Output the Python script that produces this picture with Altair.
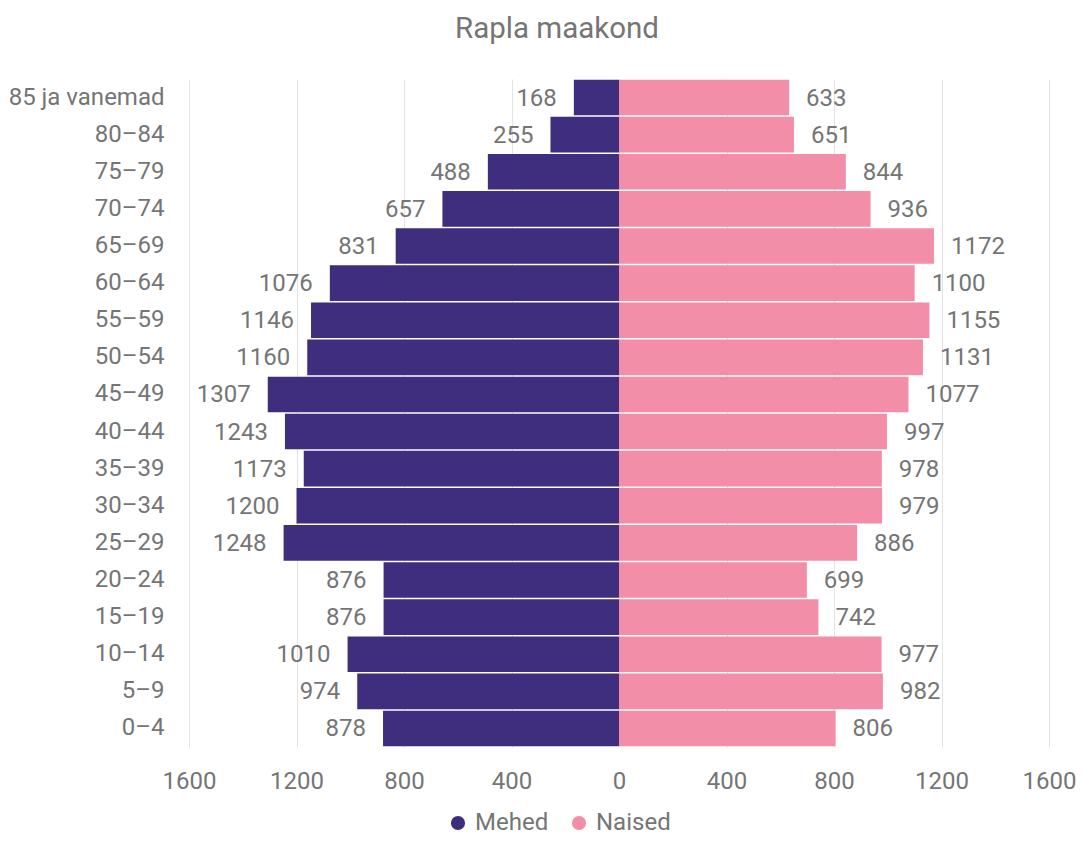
import altair as alt
import pandas as pd

ages = ["0–4", "5–9", "10–14", "15–19", "20–24", "25–29", "30–34", "35–39",
        "40–44", "45–49", "50–54", "55–59", "60–64", "65–69", "70–74",
        "75–79", "80–84", "85 ja vanemad"]
mehed = [878, 974, 1010, 876, 876, 1248, 1200, 1173, 1243, 1307, 1160,
         1146, 1076, 831, 657, 488, 255, 168]
naised = [806, 982, 977, 742, 699, 886, 979, 978, 997, 1077, 1131, 1155,
          1100, 1172, 936, 844, 651, 633]
x_ticks = [-1600, -1200, -800, -400, 0, 400, 800, 1200, 1600]

rows = []
for a, m, n in zip(ages, mehed, naised):
    rows.append({"age": a, "sugu": "Mehed", "value": m, "signed": -m})
    rows.append({"age": a, "sugu": "Naised", "value": n, "signed": n})
df = pd.DataFrame(rows)

order = list(reversed(ages))
FONT = "Roboto"
GRAY = "#757575"
FS = 24

y_enc = alt.Y("age:N", sort=order, title=None,
              scale=alt.Scale(paddingInner=0.04, paddingOuter=0.02),
              axis=alt.Axis(domain=False, ticks=False, labelFontSize=FS,
                            labelColor=GRAY, labelFont=FONT, labelPadding=25))
x_enc = alt.X("signed:Q", title=None,
              scale=alt.Scale(domain=[-1600, 1600], nice=False),
              axis=alt.Axis(values=x_ticks, labelExpr="abs(datum.value)",
                            domain=False, ticks=False, labelFontSize=FS,
                            labelColor=GRAY, labelFont=FONT, labelPadding=22,
                            labelFlush=False,
                            gridColor="#e3e3e3", gridWidth=1))

bars = alt.Chart(df).mark_bar().encode(
    x=x_enc, y=y_enc,
    color=alt.Color("sugu:N", title=None,
                    scale=alt.Scale(domain=["Mehed", "Naised"],
                                    range=["#3f2d7e", "#f28ea8"]),
                    legend=alt.Legend(orient="none", legendX=257, legendY=732,
                                      direction="horizontal",
                                      symbolType="circle",
                                      symbolSize=200, labelFontSize=FS,
                                      labelColor=GRAY, labelFont=FONT,
                                      symbolOpacity=1, columnPadding=18,
                                      labelOffset=5)),
)

txt_m = alt.Chart(df).transform_filter(alt.datum.sugu == "Mehed").mark_text(
    align="right", baseline="middle", dx=-17, dy=1, fontSize=FS, font=FONT,
    color=GRAY).encode(x="signed:Q", y=alt.Y("age:N", sort=order), text="value:Q")
txt_n = alt.Chart(df).transform_filter(alt.datum.sugu == "Naised").mark_text(
    align="left", baseline="middle", dx=17, dy=1, fontSize=FS, font=FONT,
    color=GRAY).encode(x="signed:Q", y=alt.Y("age:N", sort=order), text="value:Q")

chart = alt.layer(bars, txt_m, txt_n).properties(
    width=860, height=668,
    padding={"left": 0, "top": 5, "right": 0, "bottom": 0},
    title=alt.TitleParams("Rapla maakond", fontSize=29.5, font=FONT,
                          fontWeight="normal", color=GRAY, offset=35, dx=-62),
).configure_view(stroke=None)

chart.save("out.html", embed_options={"renderer": "svg", "actions": False})
